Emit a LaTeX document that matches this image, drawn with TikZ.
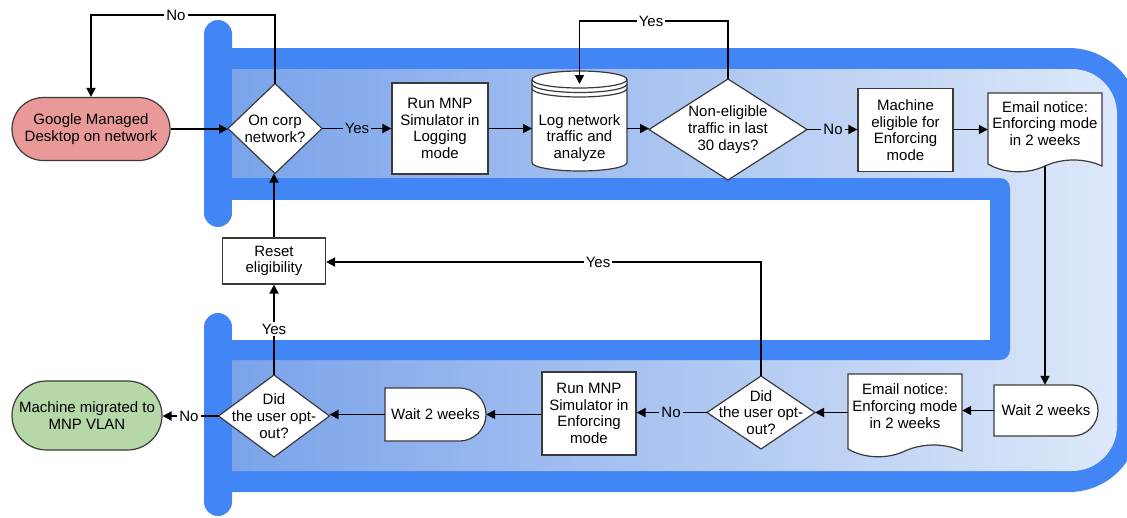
\documentclass[tikz,border=0pt]{standalone}
\usepackage{fontspec}
\setmainfont{Liberation Sans}
\usetikzlibrary{arrows.meta,calc}
\definecolor{gblue}{HTML}{4285F4}
\definecolor{lightL}{HTML}{7AA3EA}
\definecolor{lightR}{HTML}{DDE8F9}
\definecolor{pinkf}{HTML}{EA9999}
\definecolor{greenf}{HTML}{B6D7A8}
\definecolor{edgec}{HTML}{3A3A3A}
\newcommand\myfs{\fontsize{15}{16.7}\selectfont}
\tikzset{
  shp/.style={draw=edgec, line width=1.2pt, fill=white},
  txt/.style={align=center, inner sep=0pt, font=\myfs},
  box/.style={shp, rectangle, txt},
  conn/.style={line width=1.8pt, black},
  arr/.style={conn, -{Triangle[length=9pt,width=9pt]}},
  lbl/.style={inner sep=2pt, font=\myfs},
}
% diamond: name, cx, cy, half width, half height, text
\newcommand{\dmnd}[6]{%
  \coordinate (#1-w) at (#2-#4,#3);
  \coordinate (#1-n) at (#2,#3-#5);
  \coordinate (#1-e) at (#2+#4,#3);
  \coordinate (#1-s) at (#2,#3+#5);
  \draw[shp] (#1-w) -- (#1-n) -- (#1-e) -- (#1-s) -- cycle;
  \node[txt] (#1) at (#2,#3) {#6};
}
% document: name, left x, top y, width, bottom corner y, text
\newcommand{\docu}[6]{%
  \draw[shp] (#2,#3) -- (#2+#4,#3) -- (#2+#4,#5+2)
    .. controls (#2+0.85*#4,#5-6) and (#2+0.65*#4,#5-6) .. (#2+0.5*#4,#5+2)
    .. controls (#2+0.35*#4,#5+10) and (#2+0.15*#4,#5+10) .. (#2,#5) -- cycle;
  \coordinate (#1-b) at (#2+0.5*#4,#5+2);
  \node[txt, minimum width=#4pt] (#1) at (#2+0.5*#4,{#3+0.43*(#5-#3)}) {#6};
}
\begin{document}
\begin{tikzpicture}[x=1pt,y=-1pt]
\useasboundingbox (0,0) rectangle (1127,517);
% ---------- background pipe ----------
\begin{scope}
\clip (0,0) rectangle (1127,517);
\fill[gblue, rounded corners=14pt] (204,20) rectangle (232,227);
\fill[gblue, rounded corners=14pt] (204,313) rectangle (232,516);
\fill[gblue] (232,48) -- (1069,48) arc[start angle=90,end angle=0,radius=70pt]
  -- (1139,422) arc[start angle=0,end angle=-90,radius=70pt] -- (232,492) -- cycle;
\shade[left color=lightL, right color=lightR] (232,69) -- (1072,69)
  arc[start angle=90,end angle=0,radius=45pt] -- (1117,426)
  arc[start angle=0,end angle=-90,radius=45pt] -- (232,471) -- cycle;
\fill[gblue] (232,178) -- (1000,178) arc[start angle=90,end angle=0,radius=10pt]
  -- (1010,350) arc[start angle=0,end angle=-90,radius=10pt] -- (232,360) -- cycle;
\fill[white] (232,200) rectangle (990,340);
\end{scope}

% ---------- nodes ----------
\node[shp, rectangle, rounded corners=31.5pt, minimum width=158pt, minimum height=63pt, txt, fill=pinkf] (start) at (91,129) {Google Managed\\Desktop on network};
\dmnd{d1}{275}{128.5}{47}{45}{On corp\\network?}
\node[box, minimum width=96pt, minimum height=91pt] (run1) at (440,128.5) {Run MNP\\Simulator in\\Logging\\mode};

% cylinder
\draw[shp] (532,79.5) -- (532,162.5) arc[start angle=180,end angle=360,x radius=47.5pt,y radius=8.5pt]
  -- (627,79.5) arc[start angle=0,end angle=180,x radius=47.5pt,y radius=8.5pt] -- cycle;
\draw[edgec, line width=1.2pt] (532,79.5) arc[start angle=180,end angle=360,x radius=47.5pt,y radius=8.5pt];
\draw[edgec, line width=1.2pt] (532,84) arc[start angle=180,end angle=360,x radius=47.5pt,y radius=8.5pt];
\draw[edgec, line width=1.2pt] (532,88.5) arc[start angle=180,end angle=360,x radius=47.5pt,y radius=8.5pt];
\node[txt] (log) at (579.5,138) {Log network\\traffic and\\analyze};
\coordinate (log-w) at (532,128.5);
\coordinate (log-e) at (627,128.5);
\coordinate (log-n) at (579.5,84);

\dmnd{d2}{728}{129.5}{79}{50.5}{Non-eligible\\traffic in last\\30 days?}
\node[box, minimum width=95pt, minimum height=83pt] (mach) at (905.5,130) {Machine\\eligible for\\Enforcing\\mode};
\docu{em1}{988}{93}{114}{164}{Email notice:\\Enforcing mode\\in 2 weeks}

\draw[shp] (994,385) -- (1072.5,385) arc[start angle=90,end angle=-90,radius=25.5pt] -- (994,436) -- cycle;
\node[txt, minimum width=104pt, minimum height=51pt] (wait1) at (1046,410.5) {Wait 2 weeks};

\docu{em2}{848}{374}{114}{449}{Email notice:\\Enforcing mode\\in 2 weeks}
\dmnd{d3}{761}{412.5}{54}{36.5}{Did\\the user opt-\\out?}
\node[box, minimum width=94pt, minimum height=83pt] (run2) at (589,413.5) {Run MNP\\Simulator in\\Enforcing\\mode};

\draw[shp] (385,388) -- (459.5,388) arc[start angle=90,end angle=-90,radius=26.5pt] -- (385,441) -- cycle;
\node[txt, minimum width=101pt, minimum height=53pt] (wait2) at (435.5,414.5) {Wait 2 weeks};

\dmnd{d4}{274}{416}{55.5}{41}{Did\\the user opt-\\out?}
\node[shp, rectangle, rounded corners=34.5pt, minimum width=150pt, minimum height=69pt, txt, fill=greenf] (done) at (87,415.5) {Machine migrated to\\MNP VLAN};
\node[box, minimum width=103pt, minimum height=46pt] (reset) at (274,261) {Reset\\eligibility};

% ---------- labels ----------
\node[lbl] (no1) at (176,15) {No};
\node[lbl] (yes1) at (357,128.5) {Yes};
\node[lbl] (yes2) at (651,21) {Yes};
\node[lbl] (no2) at (833,129.5) {No};
\node[lbl] (yes3) at (598,262) {Yes};
\node[lbl] (no3) at (671,412.5) {No};
\node[lbl] (no4) at (189,416) {No};
\node[lbl] (yes4) at (274,329) {Yes};

% ---------- connectors ----------
\draw[arr] (start.east) -- (d1-w |- start.east);
\draw[conn] (d1-n) |- (no1.east);
\draw[arr] (no1.west) -| (start.north);
\draw[conn] (d1-e) -- (yes1.west);
\draw[arr] (yes1.east) -- (run1.west |- yes1.east);
\draw[arr] (run1.east |- log-w) -- (log-w);
\draw[arr] (log-e) -- (d2-w |- log-e);
\draw[conn] (d2-n) |- (yes2.east);
\draw[arr] (yes2.west) -| (log-n);
\draw[conn] (d2-e) -- (no2.west);
\draw[arr] (no2.east) -- (mach.west |- no2.east);
\draw[arr] (mach.east |- no2.east) -- (em1.west |- no2.east);
\draw[arr] (em1-b) -- (em1-b |- wait1.north);
\draw[arr] (wait1.west) -- (em2.east |- wait1.west);
\draw[arr] (em2.west |- d3-e) -- (d3-e);
\draw[conn] (d3-n) |- (yes3.east);
\draw[arr] (yes3.west) -- (reset.east |- yes3.west);
\draw[conn] (d3-w) -- (no3.east);
\draw[arr] (no3.west) -- (run2.east |- no3.west);
\draw[arr] (run2.west |- wait2.east) -- (wait2.east);
\draw[arr] (wait2.west) -- (d4-e |- wait2.west);
\draw[conn] (d4-w) -- (no4.east);
\draw[arr] (no4.west) -- (done.east |- no4.west);
\draw[conn] (d4-n) -- (yes4.south);
\draw[arr] (yes4.north) -- (reset.south);
\draw[arr] (reset.north) -- (reset.north |- d1-s);
\end{tikzpicture}
\end{document}
